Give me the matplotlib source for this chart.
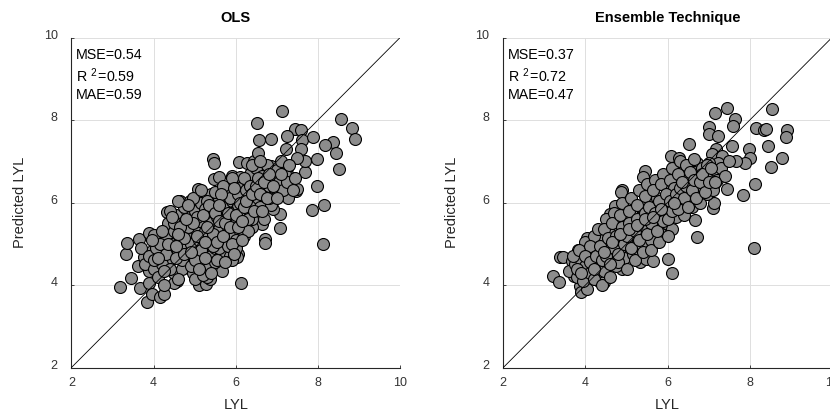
import matplotlib
matplotlib.use("Agg")
import matplotlib.pyplot as plt
from matplotlib.transforms import ScaledTranslation

plt.rcParams['font.family'] = ['Liberation Sans', 'DejaVu Sans']
plt.rcParams['mathtext.fontset'] = 'custom'
plt.rcParams['mathtext.rm'] = 'Liberation Sans'
plt.rcParams['mathtext.it'] = 'Liberation Sans'
plt.rcParams['mathtext.bf'] = 'Liberation Sans:bold'

# ---------------- data ----------------
titles = ["OLS", "Ensemble Technique"]
metrics_ols = ["MSE=0.54", "R $^{2\\,}$=0.59", "MAE=0.59"]
metrics_ens = ["MSE=0.37", "R $^{2\\,}$=0.72", "MAE=0.47"]
ticks = [2, 4, 6, 8, 10]

ols_x = [7.13, 6.52, 6.57, 6.86, 7.44, 7.58, 7.24, 7.61, 7.22, 7.58, 7.89, 8.56, 8.82, 8.91,
         8.36, 8.17, 8.44, 8.52, 7.97, 7.99, 8.15, 7.86, 8.12, 7.69, 7.69, 7.50, 7.46, 7.50,
         7.28, 7.08, 7.08, 7.08, 5.44, 5.46, 5.46, 5.59, 6.07, 6.28, 6.45, 6.55, 6.86, 6.67,
         6.12, 6.63, 6.71, 6.71, 5.67, 3.19, 3.45, 3.68, 3.84, 3.88, 3.97, 4.15, 4.26, 3.32,
         3.35, 3.65, 3.89, 4.01, 3.97, 3.62, 3.77, 3.88, 4.22, 4.56, 4.49, 5.10, 5.27, 5.37,
         5.45, 4.87, 5.11, 6.05, 6.02, 4.32, 4.64, 4.88, 5.09, 5.41, 5.78, 6.00, 5.90, 6.10,
         6.02, 5.73, 5.57, 6.35, 6.35, 6.51, 6.57, 6.92, 6.83, 7.00, 7.24, 7.33,
         4.20, 4.30, 4.35, 4.40, 4.45, 4.50, 4.50, 4.55, 4.60, 4.65, 4.70, 4.70, 4.75, 4.80,
         4.80, 4.85, 4.90, 4.90, 4.95, 5.00, 5.00, 5.05, 5.10, 5.10, 5.15, 5.20, 5.20, 5.25,
         5.30, 5.30, 5.35, 5.40, 5.40, 5.45, 5.50, 5.50, 5.55, 5.60, 5.60, 5.65, 5.70, 5.70,
         5.75, 5.80, 5.80, 5.85, 5.90, 5.90, 5.95, 6.00, 6.00, 6.05, 6.10, 6.10, 6.15, 6.20,
         6.25, 6.30, 6.30, 6.35, 6.40, 6.40, 6.45, 6.50, 6.50, 6.55, 6.60, 6.60, 6.65, 6.70,
         6.75, 6.80, 6.85, 6.90, 6.95, 7.00, 7.05, 7.10, 7.15, 7.20, 7.25, 7.30, 7.40, 7.45,
         3.70, 3.80, 3.90, 4.00, 4.05, 4.10, 4.15, 4.20, 4.25, 3.95, 4.00, 4.30, 4.40, 4.60,
         4.70, 4.90, 5.00, 5.20, 5.35, 5.50, 5.60, 5.80, 5.90, 6.00, 6.20, 6.30, 6.40, 6.70,
         6.80, 4.40, 4.60, 4.95, 5.15, 5.30, 5.50, 5.70, 5.90, 6.20, 6.40, 6.60, 4.85, 5.05,
         5.25, 5.45, 5.65, 5.85, 6.05, 6.25, 4.50, 4.75,
         4.35, 4.45, 4.55, 4.65, 4.75, 4.85, 4.95, 5.00, 5.05, 5.15, 5.20, 5.25, 5.30, 5.35,
         5.45, 5.50, 5.55, 5.60, 5.65, 5.70, 5.75, 5.80, 5.85, 5.90, 5.95, 6.00, 6.05, 6.10,
         6.15, 6.20, 6.25, 6.30, 6.35, 6.40, 6.45, 6.50, 6.55, 6.60, 6.65, 6.70, 6.75, 6.80,
         6.90, 7.00, 7.10, 4.10, 4.20, 4.25, 4.60, 4.80, 5.10, 5.40, 5.55, 5.75, 5.95, 4.55,
         4.90, 5.25, 5.60, 6.15]
ols_y = [8.22, 7.94, 7.51, 7.54, 7.79, 7.76, 7.62, 7.51, 7.29, 7.29, 7.60, 8.02, 7.82, 7.54,
         7.48, 7.39, 7.21, 6.81, 7.05, 6.40, 5.94, 5.82, 4.99, 6.73, 7.01, 7.09, 6.27, 6.33,
         6.12, 6.28, 5.72, 5.39, 7.05, 6.97, 6.57, 6.63, 6.99, 6.97, 7.01, 7.21, 6.89, 6.53,
         4.06, 5.47, 5.11, 5.01, 4.34, 3.96, 4.17, 3.94, 3.58, 4.06, 3.78, 3.71, 3.79, 4.75,
         5.03, 5.11, 5.26, 5.22, 4.83, 4.46, 4.67, 4.34, 4.38, 4.10, 4.06, 4.00, 4.02, 4.14,
         4.64, 4.42, 4.29, 4.75, 4.67, 5.76, 6.04, 6.04, 6.32, 6.20, 6.20, 6.24, 6.65, 6.61,
         5.64, 5.27, 4.91, 5.39, 6.22, 6.04, 5.76, 5.84, 6.69, 6.61, 6.85, 6.61,
         4.90, 5.20, 5.50, 4.60, 5.00, 5.30, 4.30, 5.70, 4.80, 5.10, 4.40, 5.50, 5.90, 4.90,
         5.25, 4.60, 5.60, 5.00, 4.30, 5.35, 5.80, 4.80, 5.10, 5.55, 6.00, 4.50, 4.95, 5.30,
         5.75, 4.20, 5.05, 5.50, 4.70, 5.90, 5.20, 4.90, 5.65, 6.10, 5.35, 4.80, 5.55, 5.90,
         5.10, 6.30, 5.40, 4.70, 5.75, 6.05, 5.20, 5.50, 4.90, 5.95, 6.35, 5.30, 5.70, 6.10,
         5.50, 6.50, 5.85, 6.70, 6.00, 5.40, 6.30, 5.70, 6.85, 6.10, 6.45, 5.90, 6.65, 6.20,
         6.90, 6.40, 5.95, 6.60, 6.30, 6.80, 6.50, 7.00, 6.30, 6.70, 6.50, 6.90, 6.30, 6.60,
         4.90, 4.50, 4.70, 4.40, 4.90, 4.20, 5.00, 4.50, 4.00, 5.10, 4.60, 4.75, 4.40, 4.15,
         4.60, 4.45, 4.15, 4.25, 4.45, 4.55, 4.90, 4.95, 4.60, 5.10, 5.20, 5.30, 5.60, 5.60,
         6.10, 5.80, 6.05, 6.10, 6.30, 6.05, 6.25, 6.40, 6.60, 6.60, 6.90, 7.00, 5.40, 5.65,
         5.85, 5.25, 5.75, 6.10, 6.20, 6.30, 5.50, 5.15,
         5.00, 5.65, 4.65, 5.40, 4.75, 5.95, 5.50, 4.60, 5.20, 4.85, 5.70, 4.65, 5.40, 5.95,
         4.95, 5.75, 5.05, 5.55, 6.20, 5.20, 5.50, 5.75, 5.40, 5.00, 6.35, 5.70, 5.40, 6.00,
         5.10, 5.90, 6.05, 5.60, 6.40, 6.20, 5.80, 6.40, 6.60, 6.20, 5.80, 6.50, 6.10, 6.70,
         6.40, 6.10, 6.70, 4.65, 5.30, 4.35, 5.25, 5.60, 4.40, 4.30, 4.60, 4.55, 4.75, 4.95,
         4.80, 5.05, 5.95, 5.55]

ens_x = [7.45, 7.15, 7.63, 7.59, 7.00, 7.02, 7.23, 8.54, 8.16, 8.36, 8.40, 8.91, 8.89, 8.45,
         8.79, 8.52, 7.98, 8.00, 7.89, 7.67, 7.57, 7.19, 7.08, 7.33, 7.23, 8.14, 7.84, 8.10,
         7.45, 7.10, 7.12, 7.14, 6.92, 6.51, 6.08, 6.27, 6.23, 6.55, 6.72, 6.67, 6.72, 6.11,
         6.02, 5.46, 5.41, 4.90, 4.87, 4.72, 4.60, 5.62, 5.90, 5.94, 5.58, 3.22, 3.36, 3.37,
         3.46, 3.67, 3.71, 3.87, 3.89, 4.03, 3.81, 4.03, 4.00, 3.91, 4.32, 4.46, 4.42, 4.89,
         4.89, 5.33, 5.48, 5.64, 5.74, 4.97, 5.17, 4.52,
         3.60, 3.75, 3.80, 3.90, 3.95, 4.00, 4.05, 4.10, 4.15, 4.20, 4.25, 4.30, 4.35, 4.40,
         4.45, 4.50, 4.55, 4.60, 4.65, 4.70, 4.75, 4.80, 4.85, 4.90, 4.95, 5.00, 5.05, 5.10,
         5.15, 5.20, 5.25, 5.30, 5.35, 5.40, 5.45, 5.50, 5.55, 5.60, 5.65, 5.70, 5.75, 5.80,
         5.85, 5.90, 5.95, 6.00, 6.05, 6.10, 6.15, 6.20, 6.25, 6.30, 6.35, 6.40, 6.45, 6.50,
         6.55, 6.60, 6.65, 6.70, 6.75, 6.80, 6.85, 6.90, 6.95, 7.00, 7.05, 7.10, 7.15, 7.20,
         7.30, 7.40, 7.50,
         4.00, 4.20, 4.40, 4.60, 4.80, 5.00, 5.20, 5.40, 5.60, 5.80, 6.00, 4.30, 4.50, 4.70,
         4.90, 5.10, 5.30, 5.50, 5.70, 5.90, 6.10, 6.30, 3.70, 3.85, 4.10, 4.45, 4.65, 4.85,
         5.05, 5.25, 5.45, 5.65, 5.85, 6.05, 6.25, 6.45, 6.65, 4.55, 4.95, 5.35, 5.75, 6.15,
         6.55, 6.95, 5.15, 5.55, 5.95, 6.35, 6.75,
         3.80, 3.90, 4.00, 4.10, 4.20, 4.25, 4.35, 4.40, 4.50, 4.55, 4.60, 4.70, 4.75, 4.80,
         4.90, 4.95, 5.00, 5.05, 5.10, 5.20, 5.25, 5.30, 5.40, 5.45, 5.50, 5.55, 5.60, 5.70,
         5.75, 5.80, 5.90, 5.95, 6.00, 6.05, 6.10, 6.20, 6.25, 6.30, 6.40, 6.45, 6.50, 6.60,
         6.65, 6.70, 6.80, 6.85, 6.90, 7.00, 7.05, 7.15, 4.45, 4.65, 4.85, 5.05, 5.25, 5.45,
         5.65, 5.85, 6.15, 6.35]
ens_y = [8.29, 8.17, 8.02, 7.86, 7.83, 7.67, 7.62, 8.26, 7.82, 7.76, 7.79, 7.75, 7.59, 7.37,
         7.09, 6.86, 7.29, 7.09, 6.97, 7.01, 7.37, 7.29, 7.17, 7.13, 6.97, 6.44, 6.18, 4.89,
         6.32, 5.88, 6.00, 6.44, 6.61, 7.43, 7.13, 7.07, 6.81, 6.85, 6.97, 5.57, 5.17, 4.29,
         4.64, 6.77, 6.62, 6.31, 6.26, 5.92, 5.72, 6.24, 6.44, 6.62, 6.04, 4.22, 4.08, 4.68,
         4.67, 4.59, 4.22, 3.98, 3.82, 3.90, 4.84, 5.15, 4.75, 4.34, 4.10, 4.08, 4.71, 4.38,
         4.67, 4.55, 4.64, 4.59, 5.05, 5.15, 4.99, 5.23,
         4.35, 4.50, 4.20, 4.60, 4.10, 4.45, 4.80, 4.30, 4.60, 4.15, 4.90, 4.45, 4.70, 5.10,
         4.35, 4.90, 4.55, 5.30, 4.75, 5.05, 4.45, 5.45, 4.90, 5.20, 4.65, 5.60, 5.00, 5.35,
         4.75, 5.85, 5.15, 5.50, 5.00, 5.75, 5.30, 6.05, 5.55, 5.10, 5.85, 5.40, 6.10, 5.65,
         5.25, 6.00, 5.50, 6.30, 5.80, 5.35, 6.10, 5.65, 6.50, 5.95, 6.25, 5.70, 6.60, 6.10,
         6.40, 5.90, 6.75, 6.30, 6.55, 6.00, 6.85, 6.45, 6.20, 6.95, 6.60, 6.30, 6.80, 6.55,
         6.85, 6.65, 7.00,
         5.05, 5.20, 4.00, 4.20, 4.55, 4.40, 4.60, 4.80, 4.85, 5.05, 5.20, 5.35, 5.60, 5.75,
         6.00, 6.10, 6.30, 6.45, 6.55, 6.70, 6.85, 7.00, 4.70, 4.85, 4.95, 5.35, 5.50, 5.70,
         5.80, 5.95, 6.15, 6.30, 6.45, 6.55, 6.70, 6.90, 7.05, 4.95, 5.40, 5.65, 5.95, 6.35,
         6.75, 6.90, 5.25, 5.30, 5.75, 6.00, 6.25,
         4.40, 4.30, 4.70, 4.55, 4.40, 4.70, 4.95, 4.60, 4.70, 5.15, 4.50, 4.90, 5.20, 4.75,
         5.40, 5.00, 5.20, 5.50, 4.90, 5.30, 5.60, 5.10, 5.45, 5.75, 5.25, 5.90, 5.50, 5.75,
         5.30, 6.05, 5.55, 6.20, 5.60, 6.05, 5.80, 6.20, 5.85, 6.35, 6.10, 6.40, 5.90, 6.30,
         6.55, 6.10, 6.50, 6.70, 6.25, 6.50, 6.85, 6.50, 4.80, 5.05, 5.25, 5.35, 5.45, 5.60,
         5.65, 5.85, 6.00, 6.50]

# ---------------- figure ----------------
fig = plt.figure(figsize=(8.30, 4.17), dpi=100)
axes_rects = [[0.0861, 0.1187, 0.3958, 0.791], [0.6064, 0.1187, 0.3958, 0.791]]
datasets = [(ols_x, ols_y, metrics_ols), (ens_x, ens_y, metrics_ens)]

for rect, title, (xs, ys, mets) in zip(axes_rects, titles, datasets):
    ax = fig.add_axes(rect)
    ax.scatter(xs, ys, s=74, c='#8c8c8c', edgecolors='black', linewidths=0.8, zorder=3)
    ax.plot([2, 10], [2, 10], color='black', lw=0.6, zorder=4)
    ax.set_xlim(2, 10)
    ax.set_ylim(2, 10)
    ax.set_xticks(ticks)
    ax.set_yticks(ticks)
    ax.grid(True, color='#dedede', lw=0.7, zorder=0)
    ax.set_axisbelow(True)
    for s in ['top', 'right']:
        ax.spines[s].set_visible(False)
    for s in ['left', 'bottom']:
        ax.spines[s].set_color('#262626')
        ax.spines[s].set_linewidth(0.8)
    ax.tick_params(direction='in', length=2.5, width=0.6, colors='#262626',
                   labelsize=9, labelcolor='#333333')
    ax.tick_params(axis='y', pad=10)
    ax.tick_params(axis='x', pad=6.5)
    off = ScaledTranslation(0, 3.5 / 100, fig.dpi_scale_trans)
    for lab in ax.get_yticklabels():
        lab.set_transform(lab.get_transform() + off)
    ax.set_title(title, fontsize=10.5, fontweight='bold', pad=11)
    ax.set_xlabel('LYL', fontsize=10.5, color='#262626', labelpad=7)
    ax.set_ylabel('Predicted LYL', fontsize=10.5, color='#262626', labelpad=12)
    for i, m in enumerate(mets):
        ax.text(0.014, 0.947 - i * 0.061, m, transform=ax.transAxes, fontsize=10.3,
                ha='left', va='center', color='black', zorder=5)

fig.savefig('out.png', dpi=100)
